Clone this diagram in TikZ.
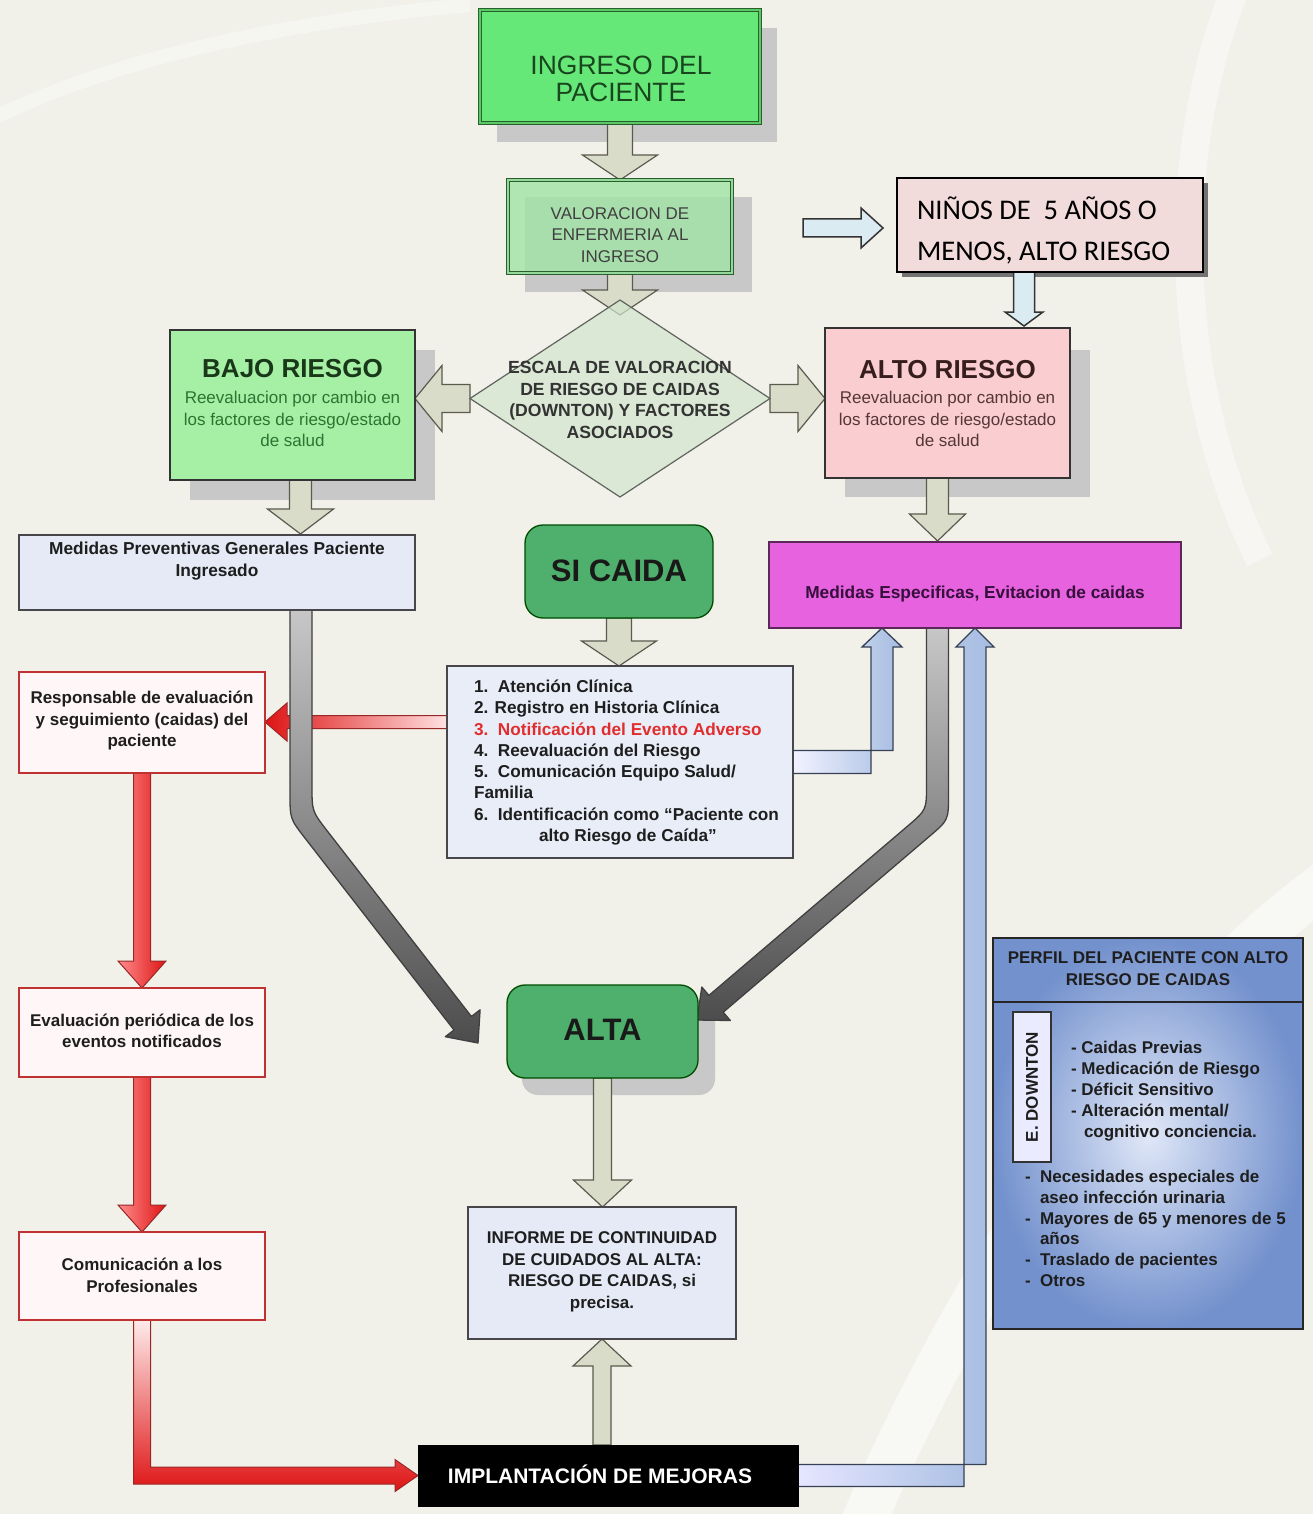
\documentclass[tikz,border=0pt]{standalone}
\usepackage{fontspec}
\setmainfont{Liberation Sans}
\newfontfamily\calibfont{Carlito}
\usetikzlibrary{shapes.geometric,calc}
\pgfdeclarelayer{back}
\pgfdeclarelayer{mid}
\pgfsetlayers{back,mid,main}
\newcommand\setfs[2]{\fontsize{#1}{#2}\selectfont}
% vertical block arrow: style, start, tip, half shaft, half head, head length
\newcommand\barrowv[6]{\path[#1] let \p1=#2, \p2=#3, \n1={sign(\y2-\y1)} in
  ({\x1-#4pt},\y1) -- ({\x1-#4pt},{\y2-(\n1)*#6pt}) -- ({\x1-#5pt},{\y2-(\n1)*#6pt}) -- (\x1,\y2)
  -- ({\x1+#5pt},{\y2-(\n1)*#6pt}) -- ({\x1+#4pt},{\y2-(\n1)*#6pt}) -- ({\x1+#4pt},\y1) -- cycle;}
% horizontal block arrow
\newcommand\barrowh[6]{\path[#1] let \p1=#2, \p2=#3, \n1={sign(\x2-\x1)} in
  (\x1,{\y1+#4pt}) -- ({\x2-(\n1)*#6pt},{\y1+#4pt}) -- ({\x2-(\n1)*#6pt},{\y1+#5pt}) -- (\x2,\y1)
  -- ({\x2-(\n1)*#6pt},{\y1-#5pt}) -- ({\x2-(\n1)*#6pt},{\y1-#4pt}) -- (\x1,{\y1-#4pt}) -- cycle;}
\definecolor{bgc}{RGB}{241,240,233}
\definecolor{shadowc}{RGB}{200,200,200}
\definecolor{beigef}{RGB}{218,220,202}
\definecolor{beiged}{RGB}{90,90,78}
\definecolor{ingf}{RGB}{102,232,120}
\definecolor{ingdbl}{RGB}{90,200,100}
\definecolor{dkgreen}{RGB}{40,95,45}
\definecolor{ingtxt}{RGB}{25,70,30}
\definecolor{valf}{RGB}{160,228,165}
\definecolor{valdbl}{RGB}{150,215,155}
\definecolor{bajof}{RGB}{166,240,166}
\definecolor{bajotxt}{RGB}{25,55,25}
\definecolor{bajosub}{RGB}{45,115,50}
\definecolor{altof}{RGB}{250,205,208}
\definecolor{altotxt}{RGB}{55,30,30}
\definecolor{altosub}{RGB}{85,55,55}
\definecolor{diamf}{RGB}{210,230,205}
\definecolor{diamd}{RGB}{95,100,95}
\definecolor{ninf}{RGB}{242,220,219}
\definecolor{lbf}{RGB}{218,236,242}
\definecolor{prevf}{RGB}{229,234,246}
\definecolor{boxd}{RGB}{70,70,75}
\definecolor{sicf}{RGB}{78,176,108}
\definecolor{espf}{RGB}{230,98,222}
\definecolor{esptxt}{RGB}{55,15,60}
\definecolor{listf}{RGB}{232,237,248}
\definecolor{redt}{RGB}{225,45,45}
\definecolor{redc}{RGB}{222,20,20}
\definecolor{redb}{RGB}{190,50,50}
\definecolor{bluef}{RGB}{165,188,225}
\definecolor{blued}{RGB}{55,65,85}
\definecolor{perfout}{RGB}{115,145,205}
\definecolor{perfin}{RGB}{225,232,248}
\definecolor{txtc}{RGB}{30,30,30}
\begin{document}
\begin{tikzpicture}[x=1pt,y=-1pt,
  every node/.style={inner sep=0pt,outer sep=0pt},
  bx/.style={draw=boxd, line width=1.3pt, rectangle},
  t17/.style={align=center, text=txtc, font=\setfs{17}{21.5}\bfseries},
  beigearr/.style={fill=beigef, draw=beiged, line width=1.2pt, line join=miter},
  lbarr/.style={fill=lbf, draw=black!80, line width=1.5pt, line join=miter},
  redarr/.style={draw=redb!80!black, line width=1pt, line join=miter},
  bluearr/.style={draw=blued, line width=1.3pt, line join=miter},
  grayarr/.style={draw=black!75, line width=1.3pt, line join=round},
  shad/.style={fill=shadowc}]
\useasboundingbox (0,0) rectangle (1313,1514);
\begin{pgfonlayer}{back}
  \fill[bgc] (0,0) rectangle (1313,1514);
  \draw[white, line width=45pt, opacity=0.55] (860,1530) .. controls (980,1250) and (1150,1010) .. (1330,880);
  \draw[white, line width=28pt, opacity=0.45] (1235,-10) .. controls (1170,150) and (1170,380) .. (1260,560);
  \draw[white, line width=14pt, opacity=0.4] (-10,120) .. controls (120,55) and (300,20) .. (470,5);
  % shadows
  \fill[shad] (497,28) rectangle (777,142);
  \fill[shad] (525,197) rectangle (752,292);
  \fill[shad] (190,350) rectangle (435,500);
  \fill[shad] (845,350) rectangle (1090,497);
  \fill[black!55] (902,183) rectangle (1208,277);
  \fill[shad, rounded corners=16pt] (522,1000) rectangle (715,1095);
\end{pgfonlayer}

% ---------- nodes ----------
\node[draw=dkgreen, line width=1.2pt, double=ingdbl, double distance=2.2pt, fill=ingf,
      minimum width=280pt, minimum height=113pt] (ingreso) at (620,66.5) {};
\node[align=center, text=ingtxt, font=\setfs{26.5}{27}] (ingreso-t) at (621,79) {INGRESO DEL\\PACIENTE};

\node[draw=dkgreen, line width=1pt, double=valdbl, double distance=2pt, fill=valf, fill opacity=0.8,
      minimum width=224pt, minimum height=93pt] (valor) at (620,226.5) {};
\node[align=center, text=black!75, font=\setfs{17}{21.5}] (valor-t) at (620,235) {VALORACION DE\\ENFERMERIA AL\\INGRESO};

\node[diamond, draw=diamd, line width=1.2pt, fill=diamf, fill opacity=0.7, aspect=1.5,
      minimum width=300pt, minimum height=197pt] (diam) at (620,398.5) {};
\node[t17, text=black!80, font=\setfs{17.6}{21.5}\bfseries] (diam-t) at (620,400) {ESCALA DE VALORACION\\DE RIESGO DE CAIDAS\\(DOWNTON) Y FACTORES\\ASOCIADOS};

\node[bx, draw=black!80, fill=bajof, minimum width=245pt, minimum height=150pt] (bajo) at (292.5,405) {};
\node[text=bajotxt, font=\setfs{26}{28}\bfseries] (bajo-t1) at (292.5,369) {BAJO RIESGO};
\node[align=center, text=bajosub, font=\setfs{17}{21.5}] (bajo-t2) at (292.5,419) {Reevaluacion por cambio en\\los factores de riesgo/estado\\de salud};

\node[bx, draw=black!80, fill=altof, minimum width=245pt, minimum height=150pt] (alto) at (947.5,403) {};
\node[text=altotxt, font=\setfs{26}{28}\bfseries] (alto-t1) at (947.5,370) {ALTO RIESGO};
\node[align=center, text=altosub, font=\setfs{17}{21.5}] (alto-t2) at (947.5,419) {Reevaluacion por cambio en\\los factores de riesgo/estado\\de salud};

\node[draw=black, line width=1.5pt, fill=ninf, minimum width=306pt, minimum height=94pt] (ninos) at (1050,225) {};
\node[align=left, anchor=west, text=black, font=\calibfont\setfs{28.5}{41}] (ninos-t) at (917,230) {NIÑOS DE\ \ 5 AÑOS O\\MENOS, ALTO RIESGO};

\node[bx, fill=prevf, minimum width=396pt, minimum height=75pt] (prevgen) at (217,572.5) {};
\node[t17, font=\setfs{17.3}{21.5}\bfseries] (prevgen-t) at (217,561) {Medidas Preventivas Generales Paciente\\Ingresado};

\node[draw=black!70!green, line width=1.3pt, fill=sicf, rounded corners=18pt, minimum width=188pt, minimum height=93pt] (sicaida) at (619,571.5) {};
\node[text=black!90, font=\setfs{31}{33}\bfseries] (sicaida-t) at (619,571) {SI CAIDA};

\node[draw=black!60!espf, line width=1.3pt, fill=espf, minimum width=412pt, minimum height=86pt] (esp) at (975,585) {};
\node[text=esptxt, font=\setfs{17.3}{20}\bfseries] (esp-t) at (975,594) {Medidas Especificas, Evitacion de caidas};

\node[bx, fill=listf, minimum width=346pt, minimum height=192pt] (lista) at (620,762) {};
\node[align=left, anchor=west, text=txtc, font=\setfs{17.2}{21.3}\bfseries] (lista-t) at (474,762.5)
  {1.\ \ Atención Clínica\\
   2. Registro en Historia Clínica\\
   \textcolor{redt}{3.\ \ Notificación del Evento Adverso}\\
   4.\ \ Reevaluación del Riesgo\\
   5.\ \ Comunicación Equipo Salud/\\
   Familia\\
   6.\ \ Identificación como “Paciente con\\
   \hspace*{65pt}alto Riesgo de Caída”};

\node[draw=redb, line width=1.5pt, fill=white!97!red, minimum width=246pt, minimum height=101pt] (resp) at (142,722.5) {};
\node[t17] (resp-t) at (142,721) {Responsable de evaluación\\y seguimiento (caidas) del\\paciente};

\node[draw=redb, line width=1.5pt, fill=white!97!red, minimum width=246pt, minimum height=89pt] (evalp) at (142,1032.5) {};
\node[t17] (evalp-t) at (142,1031) {Evaluación periódica de los\\eventos notificados};

\node[draw=redb, line width=1.5pt, fill=white!97!red, minimum width=246pt, minimum height=88pt] (comun) at (142,1276) {};
\node[t17] (comun-t) at (142,1275.5) {Comunicación a los\\Profesionales};

\node[draw=black!70!green, line width=1.3pt, fill=sicf, rounded corners=18pt, minimum width=191pt, minimum height=93pt] (alta) at (602.5,1031.5) {};
\node[text=black!90, font=\setfs{31}{33}\bfseries] (alta-t) at (602.5,1030) {ALTA};

\node[bx, fill=prevf, minimum width=268pt, minimum height=132pt] (informe) at (602,1273) {};
\node[t17] (informe-t) at (602,1272) {INFORME DE CONTINUIDAD\\DE CUIDADOS AL ALTA:\\RIESGO DE CAIDAS, si\\precisa.};

\node[draw=black, fill=black, minimum width=380pt, minimum height=61pt] (implant) at (608,1475.5) {};
\node[text=white, font=\setfs{21}{24}\bfseries] (implant-t) at (600,1474) {IMPLANTACIÓN DE MEJORAS};

\node[draw=black!85, line width=1.5pt, inner color=perfin, outer color=perfout, minimum width=310pt, minimum height=391pt] (perfil) at (1148,1133.5) {};
\draw[black!85, line width=1.5pt] ($(perfil.north west)+(0,64)$) -- ($(perfil.north east)+(0,64)$);
\node[t17, font=\setfs{17}{22}\bfseries] (perfil-t) at (1148,969) {PERFIL DEL PACIENTE CON ALTO\\RIESGO DE CAIDAS};
\node[draw=black!80, line width=1.3pt, fill=white!92!blue, minimum width=38pt, minimum height=150pt] (downton) at (1032,1087) {};
\node[rotate=90, text=txtc, font=\setfs{17}{20}\bfseries] (downton-t) at (1032,1087) {E. DOWNTON};
\node[align=left, anchor=west, text=txtc, font=\setfs{17}{21}\bfseries] (perfil-a) at (1071,1091)
  {- Caidas Previas\\- Medicación de Riesgo\\- Déficit Sensitivo\\- Alteración mental/\\\hspace*{13pt}cognitivo conciencia.};
\node[align=left, anchor=west, text=txtc, font=\setfs{17}{20.7}\bfseries] (perfil-b) at (1025,1228.5)
  {-\ \ Necesidades especiales de\\\hspace*{15pt}aseo infección urinaria\\-\ \ Mayores de 65 y menores de 5\\\hspace*{15pt}años\\-\ \ Traslado de pacientes\\-\ \ Otros};

% ---------- connectors ----------
\begin{pgfonlayer}{mid}
  \barrowv{beigearr}{(ingreso.south)}{(valor.north)}{12.5}{37.5}{25}
  \barrowv{beigearr}{(valor.south)}{($(diam.north)+(0,15)$)}{12.5}{37.5}{25}
  \barrowh{beigearr}{(diam.west)}{(bajo.east)}{14}{33}{27}
  \barrowh{beigearr}{(diam.east)}{(alto.west)}{14}{33}{27}
  \barrowv{beigearr}{($(bajo.south)+(8,0)$)}{($(bajo.south |- prevgen.north)+(8,-1)$)}{11}{33}{25}
  \barrowv{beigearr}{($(alto.south)+(-10,0)$)}{($(alto.south |- esp.north)+(-10,-1)$)}{11}{28}{27}
  \barrowv{beigearr}{(sicaida.south)}{(sicaida.south |- lista.north)}{12.5}{37.5}{25}
  \barrowv{beigearr}{(alta.south)}{(alta.south |- informe.north)}{9}{29}{27}
  \barrowv{beigearr}{(informe.south |- implant.north)}{(informe.south)}{9}{29}{27}
  \barrowh{lbarr}{($(ninos.west)+(-94,3)$)}{($(ninos.west)+(-14,3)$)}{9}{20}{22}
  \barrowv{lbarr}{($(ninos.south)+(-26,0)$)}{($(ninos.south |- alto.north)+(-26,-2)$)}{10.5}{19}{14}
  % red connectors
  \path[redarr, left color=redc, right color=white!88!red] let \p1=($(lista.west)+(0,-40)$), \p2=(resp.east) in
    (\x1,{\y1+6.5pt}) -- ({\x2+22pt},{\y1+6.5pt}) -- ({\x2+22pt},{\y1+19pt}) -- (\x2,\y1)
    -- ({\x2+22pt},{\y1-19pt}) -- ({\x2+22pt},{\y1-6.5pt}) -- (\x1,{\y1-6.5pt}) -- cycle;
  \barrowv{redarr, left color=red!45!white, right color=redc}{(resp.south)}{(evalp.north)}{8.5}{24}{27}
  \barrowv{redarr, left color=red!45!white, right color=redc}{(evalp.south)}{(comun.north)}{8.5}{24}{27}
  \path[redarr, top color=white!92!red, bottom color=redc] let \p1=(comun.south), \p2=(implant.west) in
    ({\x1-8.5pt},\y1) -- ({\x1-8.5pt},{\y2-8.5pt}) -- ({\x2-23pt},{\y2-8.5pt}) -- ({\x2-23pt},{\y2-16pt})
    -- (\x2,\y2) -- ({\x2-23pt},{\y2+16pt}) -- ({\x2-23pt},{\y2+8.5pt}) -- ({\x1+8.5pt},{\y2+8.5pt})
    -- ({\x1+8.5pt},\y1) -- cycle;
  % blue connectors
  \path[bluearr, left color=white!95!blue, right color=bluef] let \p1=(lista.east), \p2=($(esp.south west)+(113,0)$) in
    (\x1,{\y1+11.5pt}) -- ({\x2+11pt},{\y1+11.5pt}) -- ({\x2+11pt},{\y2-19pt}) -- ({\x2+20pt},{\y2-19pt})
    -- (\x2,\y2) -- ({\x2-20pt},{\y2-19pt}) -- ({\x2-11pt},{\y2-19pt}) -- ({\x2-11pt},{\y1-11.5pt})
    -- (\x1,{\y1-11.5pt}) -- cycle;
  \path[bluearr, left color=white!90!blue, right color=bluef] let \p1=(implant.east), \p2=($(esp.south west)+(206,0)$) in
    (\x1,{\y1+11pt}) -- ({\x2+11pt},{\y1+11pt}) -- ({\x2+11pt},{\y2-19pt}) -- ({\x2+19pt},{\y2-19pt})
    -- (\x2,\y2) -- ({\x2-19pt},{\y2-19pt}) -- ({\x2-11pt},{\y2-19pt}) -- ({\x2-11pt},{\y1-11pt})
    -- (\x1,{\y1-11pt}) -- cycle;
  % gray connectors to ALTA
  \path[grayarr, top color=black!22, middle color=black!50, bottom color=black!70]
    (290,610) -- (290,793.8) .. controls (290,818.8) .. (305.3,838.5) -- (454.0,1030.0)
    -- (445.3,1036.7) -- (478,1043) -- (480.1,1009.8) -- (471.4,1016.5)
    -- (327.3,831.0) .. controls (312,811.2) .. (312,786.2) -- (312,610) -- cycle;
  \path[grayarr, top color=black!22, middle color=black!50, bottom color=black!70]
    (926.5,628) -- (926.5,784.9) .. controls (926.5,809.9) .. (907.5,826.2) -- (708.9,995.4)
    -- (701.8,987.0) -- (697,1020) -- (730.3,1020.5) -- (723.2,1012.2)
    -- (929.5,836.3) .. controls (948.5,820.1) .. (948.5,795.1) -- (948.5,628) -- cycle;
\end{pgfonlayer}
\end{tikzpicture}
\end{document}
